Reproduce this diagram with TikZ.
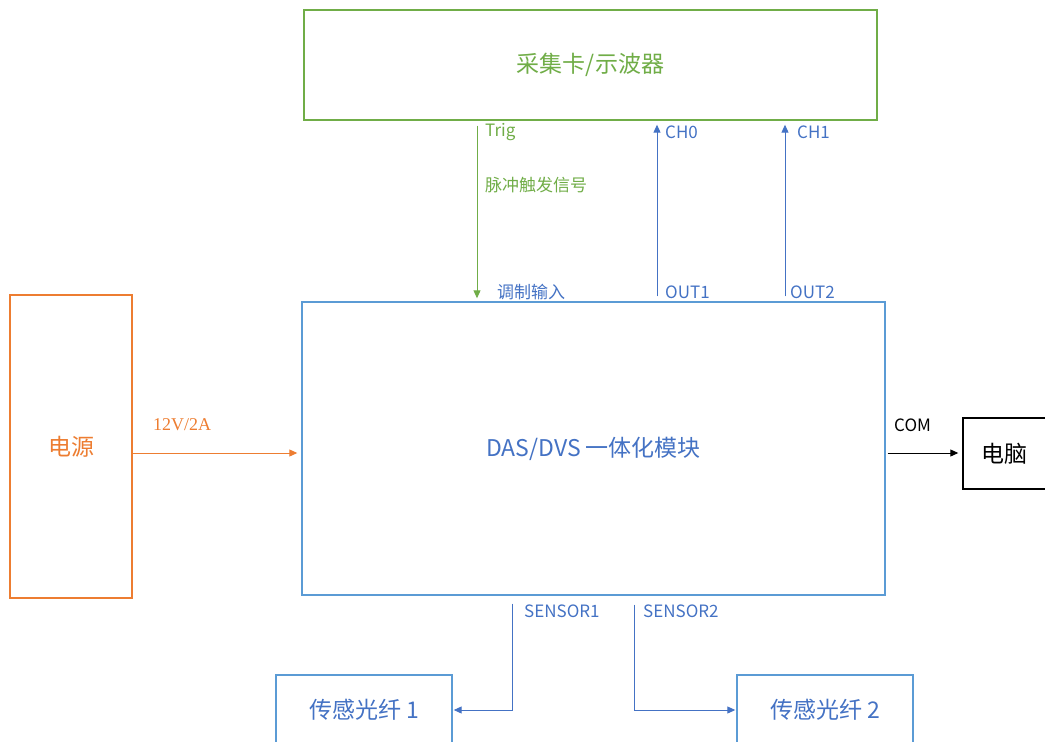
\documentclass[tikz,border=0pt]{standalone}
\usepackage{fontspec}
\newfontfamily\cjk{Noto Sans CJK SC}
\newfontfamily\serifnum{Liberation Serif}
\usetikzlibrary{arrows.meta,calc}
\definecolor{cgreen}{HTML}{70AD47}
\definecolor{cblue}{HTML}{5B9BD5}
\definecolor{dblue}{HTML}{4472C4}
\definecolor{corange}{HTML}{ED7D31}
\begin{document}
\begin{tikzpicture}[x=1pt,y=-1pt,
  box/.style={draw, rectangle, line width=1.4pt, inner sep=0pt, fill=white,
    font=\cjk\fontsize{23}{26}\selectfont},
  lbl/.style={anchor=west, inner sep=0pt, font=\cjk\fontsize{17}{20}\selectfont},
  conn/.style={line width=1pt, -{Triangle[width=7pt,length=8pt]}}]
\useasboundingbox (0,0) rectangle (1045,742);
\clip (0,0) rectangle (1045,742);
\node[box, draw=cgreen, text=cgreen, minimum width=573pt, minimum height=110pt] (top) at (590.5,65) {采集卡/示波器};
\node[box, draw=cblue, text=dblue, minimum width=583pt, minimum height=293pt] (main) at (593.5,448.5) {DAS/DVS 一体化模块};
\node[box, draw=corange, text=corange, minimum width=122pt, minimum height=303pt] (power) at (71,446.5) {电源};
\node[box, draw=black, text=black, minimum width=97pt, minimum height=71pt, text width=70pt, align=left] (pc) at (1011.5,453.5) {\hspace*{5pt}电脑};
\node[box, draw=cblue, text=dblue, minimum width=176pt, minimum height=70pt] (s1) at (364,710) {传感光纤 1};
\node[box, draw=cblue, text=dblue, minimum width=176pt, minimum height=70pt] (s2) at (825,710) {传感光纤 2};

\coordinate (xtrig) at (477,0);
\coordinate (xch0) at (657,0);
\coordinate (xch1) at (785,0);
\coordinate (xs1) at (512,0);
\coordinate (xs2) at (634,0);
\coordinate (yin) at (0,453);

\draw[conn, cgreen, shorten <=5pt, shorten >=3pt] (top.south -| xtrig) -- (main.north -| xtrig);
\draw[conn, dblue, shorten <=5pt, shorten >=4pt] (main.north -| xch0) -- (top.south -| xch0);
\draw[conn, dblue, shorten <=5pt, shorten >=4pt] (main.north -| xch1) -- (top.south -| xch1);
\draw[conn, corange, shorten >=4pt] (power.east |- yin) -- (main.west |- yin);
\draw[conn, black, shorten <=2pt, shorten >=4pt] (main.east |- yin) -- (pc.west |- yin);
\draw[conn, dblue, shorten <=8pt, shorten >=1pt] (main.south -| xs1) |- (s1.east);
\draw[conn, dblue, shorten <=9pt, shorten >=1pt] (main.south -| xs2) |- (s2.west);

\node[lbl, text=cgreen] (ltrig) at (485,132) {Trig};
\node[lbl, text=cgreen] (lpulse) at (485,185) {脉冲触发信号};
\node[lbl, text=dblue] (lmod) at (497,292) {调制输入};
\node[lbl, text=dblue] (lch0) at (665,132) {CH0};
\node[lbl, text=dblue] (lch1) at (797,132) {CH1};
\node[lbl, text=dblue] (lout1) at (665,292) {OUT1};
\node[lbl, text=dblue] (lout2) at (790,292) {OUT2};
\node[lbl, text=corange, font=\serifnum\fontsize{18}{20}\selectfont] (lpow) at (153,425) {12V/2A};
\node[lbl, text=black] (lcom) at (894,425) {COM};
\node[lbl, text=dblue] (lsen1) at (524,611) {SENSOR1};
\node[lbl, text=dblue] (lsen2) at (643,611) {SENSOR2};
\end{tikzpicture}
\end{document}
